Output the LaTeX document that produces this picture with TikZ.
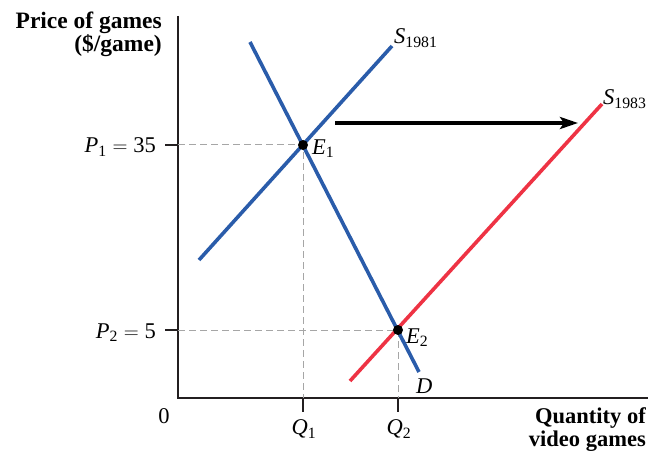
\documentclass[tikz,border=0pt]{standalone}
\usepackage{amsmath}
\usepackage{fontspec}
\setmainfont{Liberation Serif}
\usetikzlibrary{arrows.meta}
\definecolor{sblue}{HTML}{2A5CAA}
\definecolor{sred}{HTML}{EE3344}
\definecolor{axisc}{HTML}{231F20}
\newcommand{\varlab}[2]{$\textit{#1}_{\text{#2}}$}
\begin{document}
\begin{tikzpicture}[x=1pt,y=-1pt,
  every node/.style={inner sep=0pt,font=\fontsize{22.5}{27}\selectfont},
  boldlab/.style={anchor=base east,font=\fontsize{23.5}{28}\selectfont\bfseries},
  boldlabx/.style={anchor=base east,font=\fontsize{22.5}{27}\selectfont\bfseries},
  axis/.style={line width=1.8pt,draw=axisc},
  tick/.style={line width=1.2pt,draw=axisc},
  guide/.style={line width=1pt,draw=gray!70,dash pattern=on 7pt off 4pt},
  bluecurve/.style={line width=3.6pt,draw=sblue},
  redcurve/.style={line width=3.6pt,draw=sred},
  shiftarrow/.style={line width=4pt,draw=black,-{Stealth[length=18pt,width=12pt,inset=4pt]}},
  eqdot/.style={circle,fill=black,minimum size=10pt,inner sep=0pt}]
\useasboundingbox (0,0) rectangle (649,452);
% axes
\coordinate (O) at (178,398);
\coordinate (Ytop) at (178,16);
\coordinate (Xend) at (648,398);
\draw[axis] (Ytop) -- (O) -- (Xend);
% key points
\coordinate (E1pt) at (303,145);
\coordinate (E2pt) at (398,330);
\coordinate (P1y) at (178,145);
\coordinate (P2y) at (178,330);
\coordinate (Q1x) at (303,398);
\coordinate (Q2x) at (398,398);
% guides
\draw[guide] (P1y) -- (E1pt) -- (Q1x);
\draw[guide] (P2y) -- (E2pt) -- (Q2x);
% ticks
\coordinate (P1t) at (165,145);
\coordinate (P2t) at (165,330);
\coordinate (Q1t) at (303,412);
\coordinate (Q2t) at (398,412);
\draw[tick] (P1t) -- (P1y);
\draw[tick] (P2t) -- (P2y);
\draw[tick] (Q1x) -- (Q1t);
\draw[tick] (Q2x) -- (Q2t);
% curves
\coordinate (Dtop) at (250,42);
\coordinate (Dbot) at (419,372);
\coordinate (S1lo) at (199,260);
\coordinate (S1hi) at (392,46);
\coordinate (S2lo) at (350,381);
\coordinate (S2hi) at (602,104);
\draw[redcurve] (S2lo) -- (S2hi);
\draw[bluecurve] (S1lo) -- (S1hi);
\draw[bluecurve] (Dtop) -- (Dbot);
% shift arrow
\coordinate (Astart) at (335,123);
\coordinate (Aend) at (578,123);
\draw[shiftarrow] (Astart) -- (Aend);
% equilibrium dots
\node[eqdot] (E1) at (E1pt) {};
\node[eqdot] (E2) at (E2pt) {};
% labels
\node[anchor=base west] (lS1) at (394,44) {\varlab{S}{1981}};
\node[anchor=base west] (lS2) at (603,105) {\varlab{S}{1983}};
\node[anchor=base west] (lE1) at (312,154) {\varlab{E}{1}};
\node[anchor=base west] (lE2) at (406,343) {\varlab{E}{2}};
\node[anchor=base west] (lD) at (416,393) {\textit{D}};
\node[anchor=base east] (lP1) at (156,153) {\varlab{P}{1}${}=\text{35}$};
\node[anchor=base east] (lP2) at (156,338) {\varlab{P}{2}${}=\text{5}$};
\node[anchor=base] (l0) at (164,423) {0};
\node[anchor=base] (lQ1) at (304,434) {\varlab{Q}{1}};
\node[anchor=base] (lQ2) at (399,434) {\varlab{Q}{2}};
\node[boldlab] (ylab1) at (162,29) {Price of games};
\node[boldlab] (ylab2) at (162,52) {(\$/game)};
\node[boldlabx] (xlab1) at (646,423) {Quantity of};
\node[boldlabx] (xlab2) at (646,446) {video games};
\end{tikzpicture}
\end{document}
